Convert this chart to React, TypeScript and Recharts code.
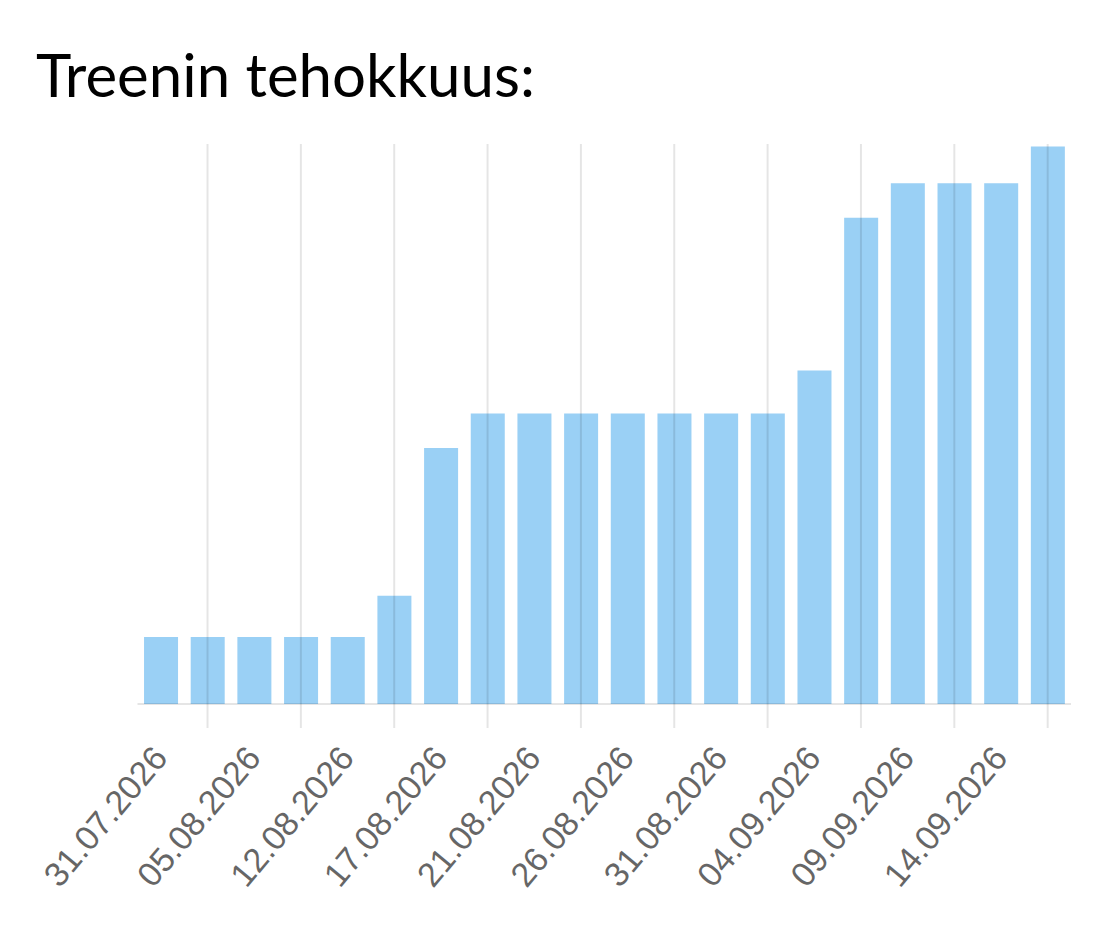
import { BarChart, Bar, XAxis, YAxis, ReferenceLine } from "recharts";

// Päivämäärät (joka toinen näkyy akselilla)
const dates = [
  "31.07.2026", "02.08.2026", "05.08.2026", "08.08.2026", "12.08.2026",
  "14.08.2026", "17.08.2026", "19.08.2026", "21.08.2026", "23.08.2026",
  "26.08.2026", "28.08.2026", "31.08.2026", "02.09.2026", "04.09.2026",
  "06.09.2026", "09.09.2026", "11.09.2026", "14.09.2026", "16.09.2026",
];

const tehokkuus = [
  12.0, 12.0, 12.0, 12.0, 12.0, 19.4, 45.9, 52.1, 52.1, 52.1,
  52.1, 52.1, 52.1, 52.1, 59.8, 87.2, 93.4, 93.4, 93.4, 100,
];

// grid lines sit halfway between the labelled ticks, i.e. on every second bar
const gridDates = dates.filter((_, i) => i % 2 === 1);

const data = dates.map((date, i) => ({ date, value: tehokkuus[i] }));

const gridColor = "rgba(0,0,0,0.1)";

// Label at the tick, plus the tick mark that sits on the next (grid) bar
function DateTick(props: any) {
  const { x, y, payload } = props;
  const half = payload?.offset ?? 23.4;
  const lx = x - 1;
  const ly = y + 47;
  return (
    <g>
      <line x1={x + 2 * half} x2={x + 2 * half} y1={y} y2={y + 24} stroke={gridColor} strokeWidth={2} />
      <text
        x={lx}
        y={ly}
        textAnchor="end"
        dominantBaseline="central"
        transform={`rotate(-50 ${lx} ${ly})`}
        fontFamily="'Liberation Sans', Arial, sans-serif"
        fontSize={34}
        fill="#666"
      >
        {payload.value}
      </text>
    </g>
  );
}

export default function App() {
  return (
    <div style={{ position: "absolute", left: 0, top: 0, width: 1107, height: 948, background: "#fff" }}>
      <div
        style={{
          position: "absolute",
          left: 36,
          top: 44,
          fontFamily: "Lato, sans-serif",
          fontSize: 60,
          lineHeight: "60px",
          color: "#000",
          whiteSpace: "nowrap",
        }}
      >
        Treenin tehokkuus:
      </div>
      <div style={{ position: "absolute", left: 0, top: 0 }}>
        <BarChart
          width={1107}
          height={948}
          data={data}
          margin={{ top: 144, right: 36, bottom: 44, left: 137.5 }}
          barCategoryGap="14%"
        >
          {gridDates.map((d) => (
            <ReferenceLine key={d} x={d} stroke={gridColor} strokeWidth={2} />
          ))}
          <XAxis
            dataKey="date"
            interval={1}
            height={200}
            tickLine={false}
            tickSize={0}
            tickMargin={0}
            axisLine={{ stroke: gridColor, strokeWidth: 2 }}
            tick={<DateTick />}
          />
          <YAxis hide domain={[0, 100.43]} />
          <Bar dataKey="value" fill="rgba(54,162,235,0.5)" isAnimationActive={false} />
        </BarChart>
      </div>
    </div>
  );
}
